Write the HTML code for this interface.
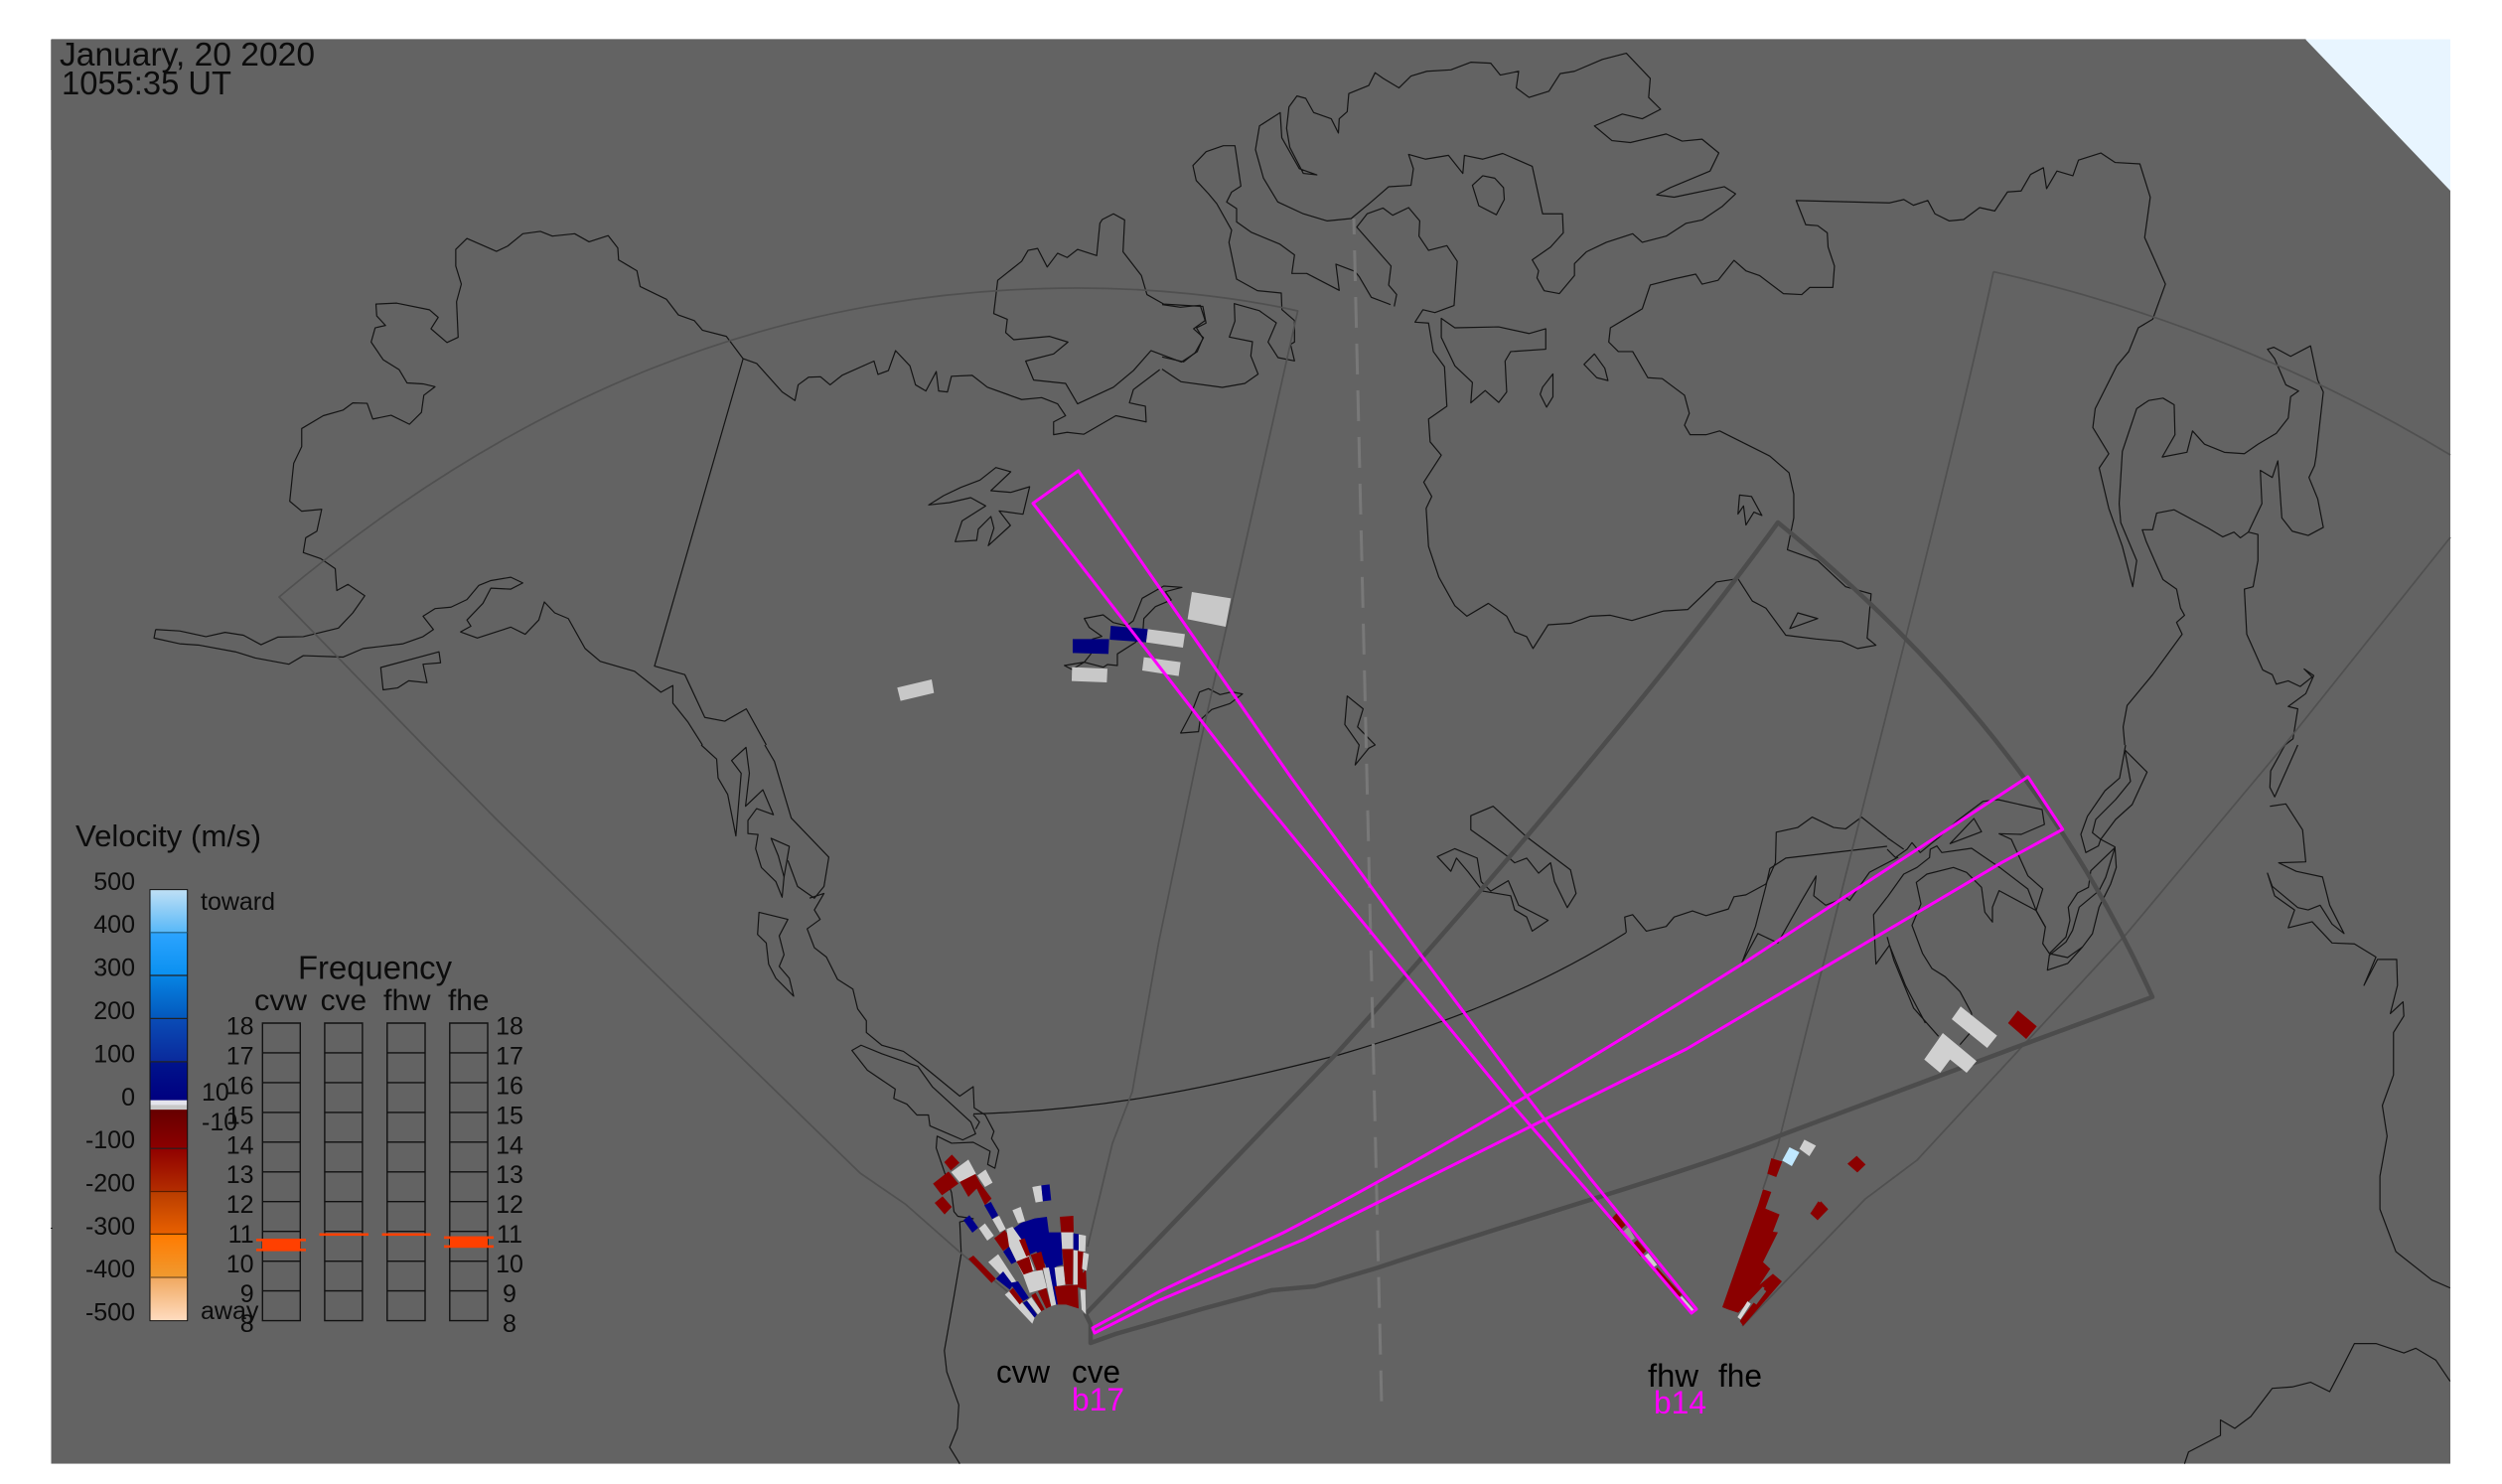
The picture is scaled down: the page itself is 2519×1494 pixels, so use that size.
<!DOCTYPE html>
<html><head><meta charset="utf-8"><style>
html,body{margin:0;padding:0;background:#fff}
svg{display:block}
polyline,polygon,line,rect,path{vector-effect:non-scaling-stroke}
.c polyline,.c polygon{fill:none;stroke:#141414;stroke-width:1.2;stroke-linejoin:round}
text{font-family:"Liberation Sans",sans-serif;fill:#0c0c0c}
.n{font-size:25px;text-anchor:end}
.m{font-size:25px;text-anchor:middle}
.r polygon{stroke:none}
</style></head><body>
<svg xmlns="http://www.w3.org/2000/svg" width="2519" height="1494" viewBox="0 0 2519 1494">
<defs>
<linearGradient id="cb" x1="0" y1="0" x2="0" y2="1">
<stop offset="0" stop-color="#bfe0f5"/><stop offset=".099" stop-color="#58b8f8"/>
<stop offset=".1" stop-color="#2ca4ff"/><stop offset=".199" stop-color="#0a90f0"/>
<stop offset=".2" stop-color="#0684e4"/><stop offset=".298" stop-color="#0458bc"/>
<stop offset=".299" stop-color="#0a4cb6"/><stop offset=".398" stop-color="#0a2a9c"/>
<stop offset=".399" stop-color="#00148c"/><stop offset=".488" stop-color="#000080"/>
<stop offset=".489" stop-color="#e4e4ec"/><stop offset=".499" stop-color="#e4e4ec"/>
<stop offset=".5" stop-color="#c8c8c8"/><stop offset=".51" stop-color="#c8c8c8"/>
<stop offset=".511" stop-color="#660000"/><stop offset=".599" stop-color="#8c0000"/>
<stop offset=".6" stop-color="#900000"/><stop offset=".698" stop-color="#b32c00"/>
<stop offset=".699" stop-color="#b83c00"/><stop offset=".798" stop-color="#e86000"/>
<stop offset=".799" stop-color="#ff7a00"/><stop offset=".899" stop-color="#f09a30"/>
<stop offset=".9" stop-color="#f0a860"/><stop offset="1" stop-color="#ffdcc0"/>
</linearGradient>
</defs>
<rect width="2519" height="1494" fill="#fff"/>
<rect x="51.5" y="39.5" width="2415.5" height="1434" fill="#636363"/>
<polygon points="2321,39.5 2467,39.5 2467,192" fill="#e8f5ff"/>
<rect x="51.5" y="39" width="2270" height="1" fill="#9a9a9a"/>
<rect x="51.5" y="1473" width="2415.5" height="1" fill="#a8a8a8"/>
<rect x="51" y="40" width="1" height="111" fill="#8a8a8a"/>
<rect x="51" y="1236" width="2" height="1" fill="#222"/>

<g class="c">
<g transform="scale(.8036,.4783)">
<polyline points="195,1325 225,1328 258,1340 282,1331 305,1337 327,1357 348,1341 380,1340 424,1322 442,1290 457,1254 436,1230 422,1243 420,1197 402,1176 380,1163 383,1132 397,1118 403,1072 378,1076 363,1055 368,975 378,940 378,902 405,875 430,863 442,848 460,849 467,882 490,874 513,893 528,868 531,832 545,814 530,808 510,806 500,778 480,757 465,720 470,690 483,685 472,665 471,640 497,638 538,652 549,668 540,692 560,721 574,710 572,635 578,598 571,560 571,525 585,502 622,529 636,518 655,492 677,487 692,497 720,492 738,509 762,496 774,522 775,547 798,570 802,603 835,630 850,663 870,675 880,695 910,708 931,755 948,765 980,825 996,843 1000,810 1013,794 1028,793 1040,810 1055,790 1095,760 1100,788 1113,780 1122,738 1140,770 1147,810 1160,823 1173,782 1176,823 1187,825 1192,792 1218,790 1237,815 1280,841 1305,837 1325,850 1335,875 1320,888 1320,915 1337,910 1358,914 1398,875 1436,888 1435,855 1415,848 1420,820 1453,778"/>
<polygon points="1381,462 1395,450 1409,463 1407,530 1430,580 1437,620 1458,640 1507,645 1511,680 1499,690 1507,712 1500,740 1480,762 1442,738 1420,780 1395,815 1350,850 1335,807 1295,800 1285,760 1320,745 1338,720 1315,708 1270,715 1260,700 1262,672 1245,660 1250,590 1280,550 1288,527 1300,523 1312,562 1325,533 1337,542 1350,525 1374,538 1378,470"/>
<polyline points="195,1325 193,1343 225,1355 250,1358 295,1372 320,1385 362,1398 380,1380 430,1383 455,1365 505,1355 530,1340 543,1325 530,1297 545,1281 565,1278 585,1262 600,1232 615,1222 640,1215 655,1227 640,1240 615,1238 605,1270 585,1305 590,1318 577,1330 598,1343 640,1320 658,1335 675,1305 682,1267 695,1290 712,1302 733,1365 752,1392 795,1413 828,1457 843,1443 843,1480 862,1520 880,1568"/>
<polyline points="931,755 820,1402 858,1420 883,1510 908,1518 935,1492 960,1568"/>
<polygon points="477,1405 550,1372 552,1395 530,1398 535,1437 512,1433 498,1448 480,1452"/>
</g>
<g transform="translate(1170,130) scale(.3333)">
<polyline points="0,725 57,763 182,780 250,768 290,740 268,685 273,642 203,628 220,580 218,527 293,548 345,585 320,643 350,690 400,700 388,650 400,643 400,578 362,545 360,495 288,488 225,453 202,342 210,305 165,225 140,195 103,155 93,110 133,68 185,50 220,50 238,172 210,190 195,220 225,240 225,280 270,312 355,347 400,380 392,436 437,436 535,487 525,408 583,430 595,445 632,508 690,530"/>
<polyline points="0,530 55,538 115,532 130,578 95,603 125,630 100,675 65,703 0,688"/>
</g>
<g transform="translate(1260,0) scale(.8029,.4783)">
<polygon points="36,237 10,265 5,315 15,375 33,425 65,450 95,465 125,460 150,425 172,393 200,390 203,355 197,325 218,335 247,327 265,365 267,327 290,335 315,323 352,350 365,450 390,450 391,490 375,520 352,547 360,570 358,585 367,612 386,618 405,580 405,555 420,530 445,510 478,492 490,510 520,497 545,470 565,463 590,435 607,408 593,393 530,415 508,410 525,395 575,360 586,322 565,293 540,297 520,282 475,300 452,296 430,265 465,240 490,250 513,230 498,205 500,165 470,112 440,125 405,150 387,155 373,192 348,205 332,185 335,150 312,158 300,133 275,131 250,147 220,150 200,160 185,185 165,165 155,153 147,180 122,197 120,235 110,250 109,280 100,250 78,237 68,207 57,202 47,225 44,270 48,310 65,365 82,368 60,355 38,290"/>
<polygon points="290,370 277,390 285,433 307,452 317,420 316,395 305,375"/>
<polyline points="179,645 182,620 172,600 175,560 132,478 145,450 165,438 177,453 197,437 211,465 210,497 222,527 245,517 258,550 254,643 230,658 215,652 205,678 222,680 228,740 242,772 245,855 222,882 224,930 238,958 216,1015 226,1045 219,1070 222,1150 235,1215 255,1275 270,1297 297,1270 320,1297 330,1330 345,1340 353,1365 372,1315 400,1312 425,1297 450,1295 477,1306 517,1286 547,1283 583,1225 610,1218 628,1265 645,1280 670,1337 708,1345 740,1350 760,1365 783,1358 772,1343 777,1250 745,1235 710,1180 672,1157 680,1090 680,1040 674,995 650,960 587,907 570,915 550,915 543,895 549,870 543,832 515,797 497,795 478,740 460,740 448,720 450,690 490,650 500,600 530,587 557,577 565,598 585,590 605,548 620,570 637,580 667,618 690,620 700,605 729,605 731,560 723,520 722,490 710,475 695,473 683,422 800,427 818,420 830,432 848,422 857,450 875,465 893,462 913,437 932,444 948,404 965,402 977,367 993,353 997,397 1010,360 1030,370 1037,337 1065,322 1083,342 1114,345 1127,415 1120,500 1146,598 1130,672 1112,690 1100,740 1085,770 1058,860 1055,900 1075,955 1063,985 1075,1070 1092,1150 1105,1235 1110,1180 1090,1100 1088,1060 1092,950 1110,860 1125,843 1143,838 1157,852 1158,915 1142,962 1173,952 1180,907 1195,935 1220,952 1245,955 1262,935 1285,912 1300,880 1303,835 1313,823 1297,810 1283,755 1274,735 1282,731 1303,750 1328,728 1337,800 1344,825 1335,960 1333,980 1326,1005 1337,1050 1344,1110 1325,1127 1305,1118 1292,1090 1287,970 1280,1005 1265,990 1267,1060 1250,1120 1262,1125 1262,1180 1256,1235 1245,1240 1248,1335 1268,1410 1280,1420 1285,1440 1300,1433 1315,1445 1330,1425 1320,1408 1332,1422 1322,1460 1300,1487 1312,1492 1306,1555 1296,1568"/>
<polyline points="1250,1120 1240,1132 1232,1120 1218,1130 1200,1112 1157,1073 1135,1080 1130,1115 1117,1115 1122,1140 1135,1190 1143,1220 1160,1240 1165,1280 1170,1295 1160,1310 1167,1335 1130,1420 1098,1485 1093,1530 1095,1568"/>
<polygon points="430,745 417,767 433,795 447,801 443,775"/>
<polygon points="378,787 365,815 362,830 370,857 378,835"/>
<polygon points="238,670 255,690 310,688 348,702 369,692 369,735 325,740 318,760 320,825 310,847 293,822 275,848 277,805 255,770 238,710"/>
<polygon points="612,1042 627,1045 640,1085 630,1078 620,1105 617,1065 610,1082"/>
<polygon points="685,1290 710,1302 675,1323"/>
<polygon points="120,1465 140,1492 133,1530 155,1568 147,1575 130,1610 135,1568 117,1525"/>
</g>
<g transform="translate(1260,750) scale(.8029,.4745)">
<polyline points="1296,0 1278,55 1277,90 1283,110 1312,0"/>
<polyline points="1277,130 1297,125 1318,180 1322,248 1288,250 1310,268 1343,280 1352,340 1370,400 1355,380 1340,340 1325,350 1312,345 1280,300 1274,272 1283,320 1308,350 1300,388 1330,375 1355,420 1383,422 1410,450 1395,510 1412,455 1436,455 1437,510 1428,570 1444,545 1445,575 1432,610 1432,700 1418,765 1424,830 1415,915 1415,985 1435,1075 1480,1135 1503,1152"/>
<polyline points="1170,1525 1175,1500 1215,1465 1215,1432 1233,1450 1253,1425 1280,1365 1305,1362 1328,1352 1352,1372 1365,1330 1383,1270 1410,1270 1445,1290 1460,1280 1485,1305 1503,1350"/>
<polygon points="275,150 303,130 345,195 400,265 407,315 396,345 380,290 375,250 360,272 345,240 330,250 320,235 300,210 275,180"/>
<polygon points="233,237 255,220 283,240 288,290 300,310 322,288 335,340 372,372 352,395 345,365 330,350 325,320 290,310 272,270 257,240 250,268"/>
<polyline points="470,398 468,365 478,360 495,395 520,385 530,365 553,352 570,362 598,348 605,322 620,318 645,295 657,250 658,185 685,175 703,153 730,175 745,178 765,153 785,180 797,196"/>
<polyline points="797,215 670,240 650,262 645,300 632,385 615,462 635,400 660,420 690,330 708,278 705,320 720,340 745,323 750,330 775,270 811,238"/>
<polyline points="797,323 780,360 783,465 800,425 820,510 845,590"/>
</g>
<g transform="translate(1900,750) scale(.3333)">
<polyline points="720,0 715,30 702,100 658,138 605,215 585,270 600,325 638,305 645,285 620,265 630,225 690,165 735,110 718,15 785,82 740,180 690,225 645,285 688,308 692,370 675,420 640,490 620,570 590,610 545,660 484,680 490,635 540,595 560,560 580,490 640,440 660,400 688,310 615,380 608,430 575,447 547,490 552,530 540,580 490,630 470,600 478,550 450,500 338,440 318,490 318,535 295,505 285,430 265,410 240,385 200,370 120,390 88,415 102,480 75,545 107,630 135,675 175,700 220,745 255,810"/>
<polyline points="450,500 425,435 340,370 255,312 165,325 150,305 130,315 128,340 90,370 50,390 0,460"/>
<polyline points="478,550 450,500 470,435 425,395 375,285 338,268 405,270 475,240 468,195 335,165 290,170 210,230 155,280 100,325 75,295 60,315 25,340 0,315"/>
<polyline points="0,280 50,315"/>
<polygon points="262,222 285,262 190,298"/>
<polyline points="0,580 20,650 80,795 155,880"/>
<polyline points="220,905 250,870 255,810"/>
<polyline points="490,630 545,642 590,610"/>
</g>
<g transform="translate(500,750) scale(.4847,.4745)">
<polyline points="425,0 457,30 460,70 480,105 497,193 508,60 488,33 518,5 525,60 517,130 553,95 575,148 540,135 522,160 522,188 543,190 538,220 550,260 580,290 593,323 597,280 603,245 608,215 570,198 585,235 597,280"/>
<polyline points="557,0 577,35 612,155 690,238 680,300 660,325 625,300 605,245"/>
<polyline points="650,325 680,315 660,350 672,370 645,390 660,430 685,450 708,497 740,518 750,560 768,585 768,610 800,637 845,650 875,672 962,745 990,725 992,770 1015,785 1033,820 1028,835 1043,860 1035,898 1020,890 1025,862 990,843 945,845 915,830 913,855 945,950 950,990 958,1000 990,1005 962,1012 965,1080 950,1170 930,1285 935,1330 960,1400 957,1450 941,1490 962,1525"/>
<polygon points="545,355 605,370 587,405 597,445 587,470 608,495 617,533 580,495 565,465 560,420 542,402"/>
<polygon points="738,648 757,637 800,655 875,682 905,725 985,800 995,825 968,838 900,808 897,785 873,785 852,762 825,750 828,730 770,690"/>
<polyline points="990,785 1003,800 995,815"/>
</g>
<g transform="translate(850,450) scale(.3333)">
<polygon points="458,62 503,75 443,132 503,137 560,120 540,203 468,193 502,237 435,298 452,245 443,210 405,248 400,282 335,286 356,223 427,178 382,153 318,168 255,175 300,147 352,122 410,100"/>
<polygon points="725,518 782,507 812,530 853,540 873,525 900,457 965,420 1020,424 970,437 988,462 940,482 905,518 902,560 880,590 825,625 825,660 795,657 783,665 725,650 665,660 688,672 725,650 745,625 750,580 778,572 740,545"/>
<polygon points="1073,740 1100,730 1135,748 1170,740 1203,746 1165,775 1110,793 1075,825 1070,860 1016,864 1050,800"/>
</g>
</g>
<path d="M980,1121.5 C1100,1118 1200,1100 1348,1062 C1440,1035 1540,1000 1637,939" fill="none" stroke="#141414" stroke-width="1.2"/>

<g fill="none" stroke="#505050" stroke-width="1.7" stroke-linejoin="round">
<path d="M1095,1255 L1120,1151 L1140,1099 L1166.5,949 L1208,750 L1260,520 L1306.6,313 C1240,298 1160,290 1085,290 C780,290 520,400 281,601 L426,750 L500,825 L866,1181 L912,1212.6 L968,1262 L1014,1300"/>
<path d="M2007,273.6 C1965,470 1880,790 1790,1153 L1775,1197"/>
<path d="M2007,273.6 C2170,310 2330,375 2467,458"/>
<polyline points="2467,541 2300,750 2141,940 1930,1168 1878,1207 1754,1335"/>
</g>
<path d="M1098,1352 L1123,1343 L1213,1317 L1280,1299 L1324,1295 L1388,1276 C1540,1225 1700,1180 1790,1144 C1880,1110 2040,1050 2167,1003.7 C2070,790 1930,640 1790,526 C1700,650 1540,845 1348,1058 L1093,1323 L1098,1333 Z" fill="none" stroke="#4c4c4c" stroke-width="4.5" stroke-linejoin="round"/>
<line x1="1363" y1="220" x2="1391" y2="1414" stroke="#787878" stroke-width="3" stroke-dasharray="31 16" stroke-dashoffset="15"/>

<g class="r">
<g transform="translate(930,1150) scale(.3333)">
<g fill="#8b0000">
<polygon points="85,37 108,62 82,85 62,60"/><polygon points="28,125 75,88 105,125 55,160"/><polygon points="33,183 57,163 85,195 63,218"/><polygon points="108,118 155,95 172,125 205,170 185,190 160,140 135,165"/><polygon points="411,225 452,222 453,272 415,272"/><polygon points="213,290 245,265 272,305 240,328"/><polygon points="135,352 150,342 218,412 205,425"/>
</g>
<g fill="#d0d0d0">
<polygon points="83,90 135,52 158,95 108,120"/><polygon points="162,100 187,82 208,122 185,135"/><polygon points="207,232 228,222 248,262 230,272"/><polygon points="268,205 293,195 306,238 285,245"/><polygon points="328,135 355,130 360,178 338,182"/><polygon points="167,260 185,245 212,282 192,297"/>
</g>
<g fill="#00008b">
<polygon points="355,130 380,127 385,175 360,178"/><polygon points="183,190 203,180 225,220 207,232"/><polygon points="120,235 138,220 165,258 147,273"/>
<polygon points="268,262 295,243 335,230 372,225 378,272 415,272 420,370 400,375 405,490 395,490 378,420 368,370 340,330 318,340 295,295 285,300"/>
</g>
<polygon fill="#d0d0d0" points="250,262 268,255 300,300 335,385 300,400 258,315"/>
<polygon fill="#00008b" points="240,330 258,315 280,360 265,368"/>
<polygon fill="#8b0000" points="288,295 305,290 322,340 310,345"/>
<polygon fill="#8b0000" points="280,360 318,345 330,390 305,405"/>
<polygon fill="#8b0000" points="323,340 355,330 368,380 345,398"/>
<polygon fill="#d0d0d0" points="330,390 358,385 372,440 320,455 300,400"/>
<polygon fill="#d0d0d0" points="195,362 225,338 282,425 262,432"/>
<polygon fill="#00008b" points="218,412 240,390 270,430 260,445"/>
<polygon fill="#00008b" points="260,425 285,420 318,470 300,480"/>
<polygon fill="#d0d0d0" points="245,460 265,445 335,530 328,548"/>
<polygon fill="#8b0000" points="258,450 270,440 300,480 290,490"/>
<polygon fill="#00008b" points="300,485 312,478 342,520 335,530"/>
<polygon fill="#d0d0d0" points="312,478 325,468 355,510 345,520"/>
<polygon fill="#8b0000" points="325,462 338,455 365,505 355,510"/>
<polygon fill="#8b0000" points="345,450 370,440 385,495 370,502"/>
<polygon fill="#d0d0d0" points="360,380 378,378 400,490 385,495"/>
<polygon fill="#d0d0d0" points="395,378 422,375 428,430 402,435"/>
<polygon fill="#8b0000" points="395,435 465,430 468,502 430,490 405,490"/>
<polygon fill="#8b0000" points="418,322 452,322 450,430 428,430"/>
<polygon fill="#d0d0d0" points="415,272 452,272 452,322 418,322"/>
<polygon fill="#00008b" points="452,275 472,278 470,325 452,325"/>
<polygon fill="#d0d0d0" points="468,278 490,282 488,330 468,328"/>
<polygon fill="#d0d0d0" points="452,325 467,328 465,430 452,430"/>
<polygon fill="#8b0000" points="465,328 485,332 480,395 490,385 492,445 465,438"/>
<polygon fill="#d0d0d0" points="482,332 499,338 492,388 478,382"/>
<polygon fill="#d0d0d0" points="473,445 488,445 490,520 477,505"/>
</g>
<g transform="translate(1720,1190) scale(.3333)">
<polygon fill="#8b0000" points="165,22 190,30 172,80 215,98 195,150 210,152 165,242 187,262 155,310 165,315 90,395 60,385 42,378 150,70"/>
<polygon fill="#8b0000" points="195,277 222,300 105,435 95,420 140,360 170,320 155,310"/>
<polygon fill="#d8d8d8" points="118,360 128,368 97,415 88,408"/>
<polygon fill="#636363" points="165,322 175,330 145,370 135,363"/>
<polygon fill="#8b0000" points="332,58 360,80 330,115 308,95"/>
</g>
<g transform="translate(1600,1100) scale(.3333)">
<polygon fill="#8b0000" points="550,198 583,208 565,255 538,245"/>
<polygon fill="#c0e8ff" points="605,165 635,180 612,222 583,205"/>
<polygon fill="#d0d0d0" points="650,142 685,160 665,192 635,170"/>
<polygon fill="#8b0000" points="808,191 835,217 810,241 780,215"/>
<polygon fill="#8b0000" points="700,328 722,352 690,385 668,365"/>
<polygon fill="#8b0000" points="82,365 110,400 90,418 63,385"/>
<polygon fill="#9a9a9a" points="102,420 118,405 138,440 120,452"/>
<polygon fill="#8b0000" points="145,445 172,478 155,495 128,460"/>
<polygon fill="#d0d0d0" points="178,485 205,520 190,530 160,498"/>
<polygon fill="#8b0000" points="205,528 280,610 270,618 195,540"/>
<polygon fill="#d0d0d0" points="280,615 320,660 310,665 272,620"/>
</g>
<g transform="translate(1900,750) scale(.3333)">
<polygon fill="#d0d0d0" points="222,790 332,878 302,915 195,828"/>
<polygon fill="#d0d0d0" points="168,870 270,955 240,990 190,950 160,990 112,950"/>
<polygon fill="#8b0000" points="395,802 452,850 420,888 365,840"/>
</g>
<g transform="translate(850,450) scale(.3333)">
<polygon fill="#00007f" points="690,580 800,580 798,625 690,622"/>
<polygon fill="#00007f" points="805,540 917,550 912,590 802,582"/>
<polygon fill="#c8c8c8" points="917,550 1029,565 1023,606 912,590"/>
<polygon fill="#c8c8c8" points="905,635 1016,650 1010,692 900,675"/>
<polygon fill="#c8c8c8" points="688,665 795,670 793,711 687,707"/>
<polygon fill="#c8c8c8" points="1050,438 1168,457 1152,543 1037,520"/>
<polygon fill="#c8c8c8" points="160,727 264,702 271,743 170,767"/>
</g>
</g>

<g fill="none" stroke="#ff00ff" stroke-width="3" stroke-linejoin="round">
<polygon points="1085.7,474 1040,506.7 1267,800 1412.6,977.8 1525,1115 1600,1201 1703,1322 1708,1318 1600,1185 1537,1103.5 1428.6,958.8 1300,783"/>
<path d="M1100,1337 L1168,1300 L1292,1241 C1400,1185 1540,1105 1758,968 L2041.7,782 L2076.7,835 L2015,868.6 L1698,1056 C1560,1125 1420,1194 1312,1248 L1165,1310 L1102,1342 Z"/>
</g>

<rect x="151" y="895.6" width="37.7" height="434" fill="url(#cb)" stroke="#111" stroke-width="1"/>
<g stroke="#222" stroke-width="1.2">
<line x1="151" y1="938.8" x2="188.7" y2="938.8" stroke="#1c5c80"/><line x1="151" y1="982" x2="188.7" y2="982"/><line x1="151" y1="1025.4" x2="188.7" y2="1025.4"/><line x1="151" y1="1068.9" x2="188.7" y2="1068.9"/><line x1="151" y1="1156.2" x2="188.7" y2="1156.2"/><line x1="151" y1="1199.5" x2="188.7" y2="1199.5" stroke="#5a1c00"/><line x1="151" y1="1242.4" x2="188.7" y2="1242.4" stroke="#5a2a00"/><line x1="151" y1="1286" x2="188.7" y2="1286" stroke="#7a5020"/>
</g>
<g class="tx">
<text x="60" y="66" font-size="33" textLength="257" lengthAdjust="spacingAndGlyphs">January, 20 2020</text>
<text x="62" y="95" font-size="33" textLength="171" lengthAdjust="spacingAndGlyphs">1055:35 UT</text>
<text x="76" y="852" font-size="31" textLength="187" lengthAdjust="spacingAndGlyphs">Velocity (m/s)</text>
<text class="n" x="136" y="896">500</text><text class="n" x="136" y="939">400</text><text class="n" x="136" y="982.5">300</text><text class="n" x="136" y="1026">200</text><text class="n" x="136" y="1069.3">100</text><text class="n" x="136" y="1113">0</text><text class="n" x="136" y="1156">-100</text><text class="n" x="136" y="1199.4">-200</text><text class="n" x="136" y="1243">-300</text><text class="n" x="136" y="1286">-400</text><text class="n" x="136" y="1329.6">-500</text>
<text x="202" y="916" font-size="25">toward</text>
<text x="202" y="1328" font-size="25">away</text>
<text x="203" y="1108" font-size="25">10</text>
<text x="203" y="1138" font-size="25">-10</text>
<text x="300" y="985.5" font-size="33" textLength="155" lengthAdjust="spacingAndGlyphs">Frequency</text>
<text x="256" y="1017" font-size="30" textLength="53" lengthAdjust="spacingAndGlyphs">cvw</text>
<text x="322.6" y="1017" font-size="30" textLength="46.5" lengthAdjust="spacingAndGlyphs">cve</text>
<text x="386" y="1017" font-size="30" textLength="47.5" lengthAdjust="spacingAndGlyphs">fhw</text>
<text x="451" y="1017" font-size="30" textLength="41.5" lengthAdjust="spacingAndGlyphs">fhe</text>
</g>
<g fill="none" stroke="#111" stroke-width="1.4">
<rect x="264.3" y="1030" width="38" height="299.6"/><rect x="326.9" y="1030" width="38" height="299.6"/><rect x="389.8" y="1030" width="38.2" height="299.6"/><rect x="452.8" y="1030" width="38.2" height="299.6"/>
<path d="M264.3 1059.9H302.3M264.3 1089.9H302.3M264.3 1119.9H302.3M264.3 1149.8H302.3M264.3 1179.8H302.3M264.3 1209.7H302.3M264.3 1239.7H302.3M264.3 1269.7H302.3M264.3 1299.6H302.3
M326.9 1059.9H364.9M326.9 1089.9H364.9M326.9 1119.9H364.9M326.9 1149.8H364.9M326.9 1179.8H364.9M326.9 1209.7H364.9M326.9 1239.7H364.9M326.9 1269.7H364.9M326.9 1299.6H364.9
M389.8 1059.9H428M389.8 1089.9H428M389.8 1119.9H428M389.8 1149.8H428M389.8 1179.8H428M389.8 1209.7H428M389.8 1239.7H428M389.8 1269.7H428M389.8 1299.6H428
M452.8 1059.9H491M452.8 1089.9H491M452.8 1119.9H491M452.8 1149.8H491M452.8 1179.8H491M452.8 1209.7H491M452.8 1239.7H491M452.8 1269.7H491M452.8 1299.6H491"/>
</g>
<g fill="#ff4000">
<rect x="264" y="1247" width="38.5" height="12"/><rect x="258" y="1247" width="50" height="2.6"/><rect x="258" y="1257" width="50" height="2.6"/>
<rect x="321.5" y="1241.5" width="49.5" height="2.6"/><rect x="384.6" y="1241.5" width="49" height="2.6"/>
<rect x="453" y="1245" width="38" height="11"/><rect x="447" y="1244.6" width="50" height="2.6"/><rect x="447" y="1253.6" width="50" height="2.6"/>
</g>
<text class="n" x="255.6" y="1041.4">18</text><text class="n" x="255.6" y="1071.4">17</text><text class="n" x="255.6" y="1101.3">16</text><text class="n" x="255.6" y="1131.3">15</text><text class="n" x="255.6" y="1161.3">14</text><text class="n" x="255.6" y="1191.2">13</text><text class="n" x="255.6" y="1221.2">12</text><text class="n" x="255.6" y="1251.1">11</text><text class="n" x="255.6" y="1281.1">10</text><text class="n" x="255.6" y="1311">9</text><text class="n" x="255.6" y="1341">8</text>
<text class="m" x="513" y="1041.4">18</text><text class="m" x="513" y="1071.4">17</text><text class="m" x="513" y="1101.3">16</text><text class="m" x="513" y="1131.3">15</text><text class="m" x="513" y="1161.3">14</text><text class="m" x="513" y="1191.2">13</text><text class="m" x="513" y="1221.2">12</text><text class="m" x="513" y="1251.1">11</text><text class="m" x="513" y="1281.1">10</text><text class="m" x="513" y="1311">9</text><text class="m" x="513" y="1341">8</text>

<text x="1003" y="1392" font-size="32" style="fill:#000" textLength="54" lengthAdjust="spacingAndGlyphs">cvw</text>
<text x="1079" y="1392" font-size="32" style="fill:#000" textLength="49" lengthAdjust="spacingAndGlyphs">cve</text>
<text x="1079" y="1420" font-size="32" style="fill:#ff00ff" textLength="53" lengthAdjust="spacingAndGlyphs">b17</text>
<text x="1659" y="1396" font-size="32" style="fill:#000" textLength="51" lengthAdjust="spacingAndGlyphs">fhw</text>
<text x="1730" y="1396" font-size="32" style="fill:#000" textLength="44" lengthAdjust="spacingAndGlyphs">fhe</text>
<text x="1665" y="1423" font-size="32" style="fill:#ff00ff" textLength="53" lengthAdjust="spacingAndGlyphs">b14</text>
</svg>
</body></html>
